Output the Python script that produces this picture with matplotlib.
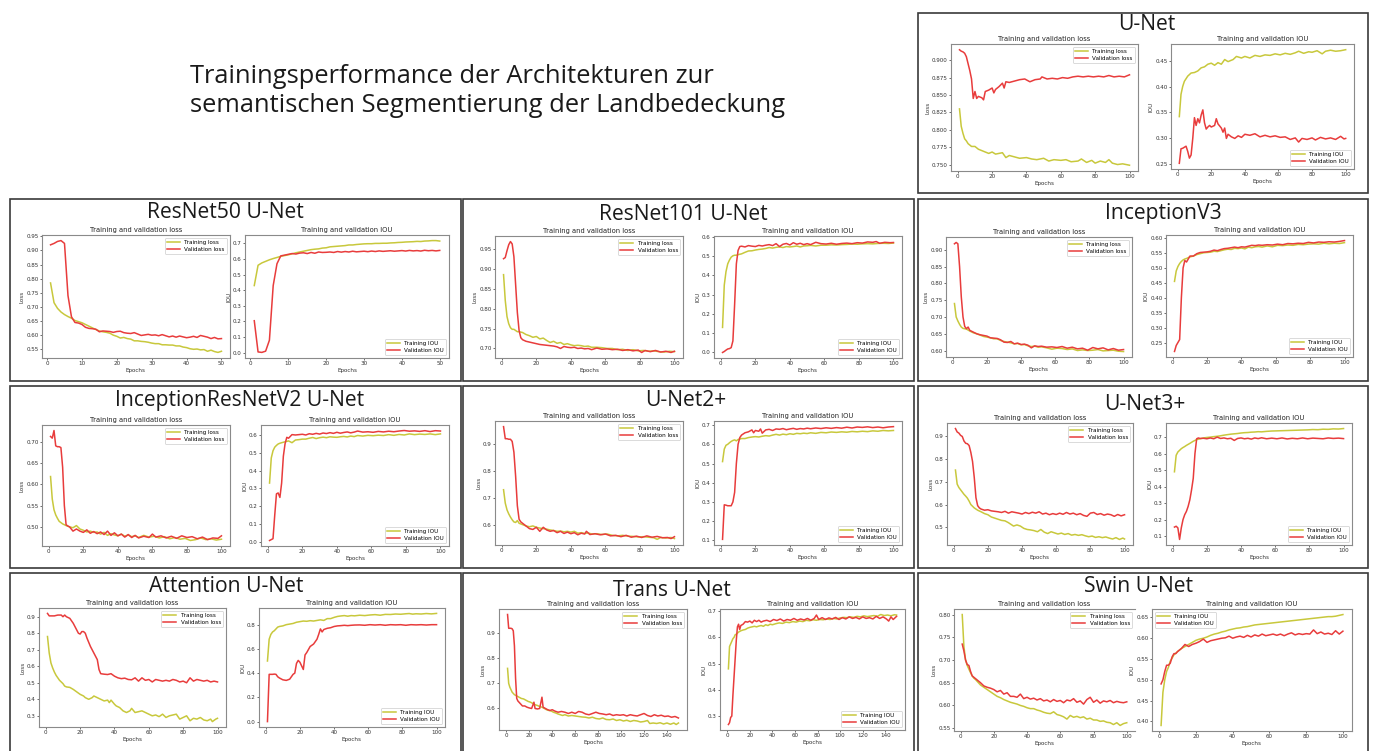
import matplotlib
matplotlib.use("Agg")
import matplotlib.pyplot as plt
from matplotlib.patches import Rectangle

W, H = 1375, 751

MAIN_TITLE = "Trainingsperformance der Architekturen zur\nsemantischen Segmentierung der Landbedeckung"

# ---------------------------------------------------------------- U-Net
UNET_TL_X = [1, 2, 3, 4, 5, 6, 8, 10, 12, 14, 16, 18, 20, 22, 24, 26, 28, 30, 33, 36, 40, 43, 46, 50,
             53, 56, 60, 63, 66, 70, 72, 75, 78, 80, 83, 86, 88, 90, 93, 96, 98, 100]
UNET_TL_Y = [0.830, 0.805, 0.795, 0.787, 0.784, 0.780, 0.776, 0.776, 0.772, 0.770, 0.768, 0.766, 0.768,
             0.765, 0.766, 0.767, 0.760, 0.763, 0.761, 0.759, 0.760, 0.758, 0.757, 0.759, 0.755, 0.757,
             0.756, 0.757, 0.754, 0.755, 0.758, 0.753, 0.756, 0.752, 0.755, 0.753, 0.757, 0.752, 0.750,
             0.751, 0.750, 0.749]
UNET_VL_X = [1, 2, 3, 4, 5, 6, 7, 8, 9, 10, 11, 12, 14, 15, 16, 18, 20, 21, 22, 24, 26, 27, 28, 30, 33,
             36, 39, 42, 45, 48, 49, 52, 55, 58, 61, 64, 67, 70, 73, 76, 79, 82, 85, 88, 91, 94, 97, 100]
UNET_VL_Y = [0.915, 0.913, 0.912, 0.910, 0.905, 0.895, 0.885, 0.873, 0.845, 0.855, 0.845, 0.848, 0.846,
             0.843, 0.855, 0.857, 0.860, 0.853, 0.858, 0.862, 0.867, 0.860, 0.869, 0.868, 0.870, 0.872,
             0.873, 0.869, 0.872, 0.873, 0.876, 0.873, 0.874, 0.873, 0.875, 0.874, 0.876, 0.877, 0.876,
             0.877, 0.876, 0.877, 0.876, 0.878, 0.876, 0.877, 0.876, 0.879]
UNET_TI_X = [1, 2, 3, 4, 5, 6, 8, 10, 12, 14, 16, 18, 20, 22, 24, 26, 28, 30, 33, 35, 38, 40, 43, 46, 49,
             52, 55, 58, 61, 64, 67, 70, 72, 75, 78, 80, 83, 86, 88, 91, 94, 97, 100]
UNET_TI_Y = [0.342, 0.385, 0.400, 0.410, 0.415, 0.420, 0.426, 0.427, 0.430, 0.436, 0.438, 0.443, 0.445,
             0.441, 0.446, 0.443, 0.452, 0.448, 0.452, 0.458, 0.455, 0.458, 0.455, 0.460, 0.458, 0.461,
             0.460, 0.463, 0.461, 0.464, 0.462, 0.465, 0.468, 0.464, 0.467, 0.466, 0.469, 0.463, 0.468,
             0.470, 0.468, 0.469, 0.471]
UNET_VI_X = [1, 2, 3, 4, 5, 6, 7, 8, 9, 10, 11, 12, 13, 14, 15, 16, 17, 18, 19, 20, 22, 23, 24, 26, 27,
             28, 29, 30, 32, 34, 36, 38, 40, 43, 46, 49, 52, 55, 58, 61, 64, 67, 70, 72, 74, 77, 80, 82,
             85, 88, 91, 94, 97, 99, 100]
UNET_VI_Y = [0.252, 0.280, 0.281, 0.283, 0.285, 0.275, 0.262, 0.268, 0.300, 0.340, 0.325, 0.338, 0.330,
             0.345, 0.355, 0.330, 0.318, 0.322, 0.325, 0.322, 0.325, 0.338, 0.328, 0.320, 0.312, 0.320,
             0.300, 0.308, 0.303, 0.300, 0.305, 0.302, 0.308, 0.306, 0.309, 0.303, 0.306, 0.303, 0.305,
             0.302, 0.303, 0.298, 0.301, 0.293, 0.300, 0.298, 0.301, 0.297, 0.302, 0.299, 0.301, 0.298,
             0.304, 0.299, 0.300]
UNET_LOSS_TICKS = [0.750, 0.775, 0.800, 0.825, 0.850, 0.875, 0.900]
UNET_IOU_TICKS = [0.25, 0.30, 0.35, 0.40, 0.45]

# ---------------------------------------------------------------- ResNet50 U-Net (50 epochs)
R50_X = list(range(1, 51))
R50_TL_Y = [0.785, 0.715, 0.695, 0.682, 0.673, 0.666, 0.660, 0.652, 0.648, 0.644, 0.638, 0.632, 0.626,
            0.620, 0.615, 0.612, 0.610, 0.607, 0.600, 0.596, 0.590, 0.592, 0.588, 0.586, 0.580, 0.580,
            0.578, 0.577, 0.575, 0.572, 0.570, 0.570, 0.566, 0.566, 0.565, 0.565, 0.562, 0.562, 0.558,
            0.556, 0.552, 0.550, 0.551, 0.548, 0.549, 0.543, 0.547, 0.542, 0.539, 0.543]
R50_VL_Y = [0.920, 0.925, 0.932, 0.935, 0.925, 0.740, 0.665, 0.645, 0.643, 0.638, 0.628, 0.624, 0.623,
            0.621, 0.612, 0.615, 0.614, 0.613, 0.610, 0.613, 0.614, 0.609, 0.607, 0.606, 0.609, 0.604,
            0.599, 0.601, 0.603, 0.600, 0.601, 0.598, 0.602, 0.598, 0.594, 0.597, 0.593, 0.597, 0.594,
            0.591, 0.593, 0.596, 0.592, 0.599, 0.596, 0.593, 0.588, 0.592, 0.587, 0.588]
R50_TI_Y = [0.430, 0.560, 0.575, 0.585, 0.595, 0.603, 0.610, 0.617, 0.622, 0.627, 0.633, 0.640, 0.645,
            0.650, 0.655, 0.660, 0.663, 0.665, 0.670, 0.672, 0.678, 0.680, 0.682, 0.684, 0.686, 0.690,
            0.690, 0.693, 0.695, 0.697, 0.698, 0.698, 0.700, 0.700, 0.701, 0.701, 0.703, 0.704, 0.706,
            0.707, 0.709, 0.710, 0.711, 0.713, 0.712, 0.715, 0.716, 0.718, 0.718, 0.715]
R50_VI_Y = [0.205, 0.005, 0.002, 0.010, 0.080, 0.430, 0.570, 0.620, 0.625, 0.630, 0.635, 0.632, 0.638,
            0.640, 0.635, 0.642, 0.637, 0.645, 0.642, 0.643, 0.645, 0.642, 0.648, 0.644, 0.648, 0.645,
            0.650, 0.646, 0.648, 0.650, 0.647, 0.651, 0.648, 0.652, 0.649, 0.651, 0.653, 0.650, 0.652,
            0.654, 0.651, 0.655, 0.652, 0.654, 0.651, 0.656, 0.653, 0.655, 0.652, 0.655]
R50_LOSS_TICKS = [0.55, 0.60, 0.65, 0.70, 0.75, 0.80, 0.85, 0.90, 0.95]
R50_IOU_TICKS = [0.0, 0.1, 0.2, 0.3, 0.4, 0.5, 0.6, 0.7]

# ---------------------------------------------------------------- ResNet101 U-Net
R101_TL_X = [1, 2, 3, 4, 5, 6, 7, 8, 9, 10, 12, 14, 16, 18, 20, 22, 24, 26, 28, 30, 32, 34, 36, 38, 40,
             42, 44, 46, 48, 50, 52, 55, 58, 61, 64, 67, 70, 73, 76, 79, 82, 85, 88, 91, 94, 97, 100]
R101_TL_Y = [0.885, 0.820, 0.780, 0.762, 0.752, 0.748, 0.748, 0.745, 0.742, 0.742, 0.740, 0.735, 0.732,
             0.728, 0.730, 0.724, 0.726, 0.720, 0.715, 0.718, 0.713, 0.715, 0.710, 0.712, 0.709, 0.707,
             0.708, 0.707, 0.705, 0.706, 0.703, 0.703, 0.702, 0.700, 0.700, 0.697, 0.698, 0.695, 0.697,
             0.694, 0.695, 0.693, 0.694, 0.692, 0.691, 0.693, 0.692]
R101_VL_X = [1, 2, 3, 4, 5, 6, 7, 8, 9, 10, 11, 12, 14, 16, 18, 20, 22, 24, 26, 28, 30, 32, 34, 36, 38,
             40, 42, 44, 46, 48, 50, 52, 55, 58, 61, 64, 67, 70, 73, 76, 79, 81, 83, 86, 89, 92, 95, 98, 100]
R101_VL_Y = [0.925, 0.928, 0.945, 0.960, 0.968, 0.962, 0.930, 0.860, 0.790, 0.745, 0.727, 0.722, 0.718,
             0.716, 0.714, 0.712, 0.710, 0.709, 0.708, 0.707, 0.706, 0.704, 0.700, 0.705, 0.703, 0.702,
             0.703, 0.700, 0.701, 0.699, 0.700, 0.697, 0.701, 0.698, 0.699, 0.697, 0.698, 0.695, 0.697,
             0.694, 0.696, 0.690, 0.695, 0.692, 0.695, 0.691, 0.693, 0.690, 0.693]
R101_TI_X = R101_TL_X
R101_TI_Y = [0.130, 0.350, 0.420, 0.460, 0.480, 0.495, 0.502, 0.505, 0.505, 0.508, 0.512, 0.520, 0.527,
             0.528, 0.532, 0.535, 0.537, 0.540, 0.545, 0.542, 0.546, 0.548, 0.545, 0.550, 0.548, 0.550,
             0.553, 0.548, 0.553, 0.554, 0.556, 0.553, 0.557, 0.557, 0.559, 0.558, 0.560, 0.561, 0.563,
             0.562, 0.564, 0.565, 0.564, 0.566, 0.567, 0.566, 0.568]
R101_VI_X = [1, 2, 3, 4, 5, 6, 7, 8, 9, 10, 11, 12, 14, 16, 18, 20, 22, 24, 26, 28, 30, 32, 34, 36, 38,
             40, 42, 44, 46, 48, 50, 52, 55, 58, 61, 64, 67, 70, 73, 76, 79, 82, 85, 88, 90, 92, 95, 98, 100]
R101_VI_Y = [0.000, 0.005, 0.012, 0.018, 0.020, 0.025, 0.060, 0.250, 0.460, 0.530, 0.550, 0.552, 0.548,
             0.555, 0.552, 0.550, 0.556, 0.553, 0.557, 0.560, 0.555, 0.565, 0.550, 0.562, 0.566, 0.558,
             0.570, 0.562, 0.567, 0.560, 0.565, 0.560, 0.572, 0.565, 0.563, 0.567, 0.562, 0.566, 0.568,
             0.565, 0.570, 0.568, 0.574, 0.572, 0.576, 0.567, 0.572, 0.570, 0.571]
R101_LOSS_TICKS = [0.70, 0.75, 0.80, 0.85, 0.90, 0.95]
R101_IOU_TICKS = [0.0, 0.1, 0.2, 0.3, 0.4, 0.5, 0.6]

# ---------------------------------------------------------------- InceptionV3
INC_TL_X = [1, 2, 3, 4, 5, 6, 7, 8, 10, 12, 14, 16, 18, 20, 22, 24, 26, 28, 30, 32, 34, 36, 38, 40, 42,
            44, 46, 48, 50, 52, 55, 58, 61, 64, 67, 70, 73, 76, 79, 82, 85, 88, 91, 94, 97, 100]
INC_TL_Y = [0.740, 0.700, 0.688, 0.678, 0.670, 0.666, 0.665, 0.664, 0.658, 0.653, 0.650, 0.646, 0.642,
            0.640, 0.638, 0.635, 0.635, 0.630, 0.627, 0.625, 0.623, 0.620, 0.621, 0.617, 0.618, 0.614,
            0.612, 0.613, 0.610, 0.611, 0.608, 0.604, 0.607, 0.606, 0.603, 0.605, 0.600, 0.602, 0.600,
            0.601, 0.603, 0.599, 0.600, 0.601, 0.598, 0.597]
INC_VL_X = [1, 2, 3, 4, 5, 6, 7, 8, 9, 10, 12, 14, 16, 18, 20, 22, 24, 26, 28, 30, 32, 34, 36, 38, 40,
            42, 44, 46, 48, 50, 52, 55, 58, 61, 64, 67, 70, 73, 76, 79, 82, 85, 88, 91, 94, 97, 100]
INC_VL_Y = [0.918, 0.922, 0.918, 0.850, 0.760, 0.700, 0.672, 0.665, 0.670, 0.660, 0.655, 0.650, 0.647,
            0.645, 0.643, 0.638, 0.637, 0.636, 0.632, 0.625, 0.624, 0.627, 0.620, 0.622, 0.618, 0.619,
            0.616, 0.608, 0.614, 0.612, 0.613, 0.610, 0.611, 0.609, 0.612, 0.607, 0.610, 0.605, 0.607,
            0.601, 0.609, 0.605, 0.608, 0.602, 0.606, 0.601, 0.603]
INC_TI_X = INC_TL_X
INC_TI_Y = [0.455, 0.490, 0.505, 0.515, 0.522, 0.527, 0.530, 0.532, 0.537, 0.540, 0.545, 0.548, 0.551,
            0.552, 0.553, 0.556, 0.555, 0.558, 0.561, 0.563, 0.562, 0.566, 0.565, 0.567, 0.564, 0.570,
            0.568, 0.571, 0.572, 0.570, 0.574, 0.571, 0.576, 0.575, 0.577, 0.576, 0.579, 0.578, 0.580,
            0.581, 0.580, 0.583, 0.581, 0.583, 0.582, 0.585]
INC_VI_X = INC_VL_X
INC_VI_Y = [0.220, 0.240, 0.250, 0.260, 0.400, 0.500, 0.525, 0.520, 0.530, 0.540, 0.540, 0.548, 0.552,
            0.553, 0.554, 0.556, 0.560, 0.558, 0.562, 0.565, 0.566, 0.568, 0.570, 0.568, 0.571, 0.570,
            0.573, 0.576, 0.575, 0.577, 0.576, 0.578, 0.577, 0.580, 0.578, 0.582, 0.581, 0.583, 0.582,
            0.586, 0.584, 0.587, 0.586, 0.588, 0.587, 0.589, 0.592]
INC_LOSS_TICKS = [0.60, 0.65, 0.70, 0.75, 0.80, 0.85, 0.90]
INC_IOU_TICKS = [0.25, 0.30, 0.35, 0.40, 0.45, 0.50, 0.55, 0.60]

# ---------------------------------------------------------------- InceptionResNetV2 U-Net
IRV2_TL_X = [1, 2, 3, 4, 5, 6, 7, 8, 10, 12, 14, 16, 18, 20, 22, 24, 26, 28, 30, 32, 34, 36, 38, 40, 42,
             44, 46, 48, 50, 52, 55, 58, 61, 64, 67, 70, 73, 76, 79, 82, 85, 88, 91, 94, 97, 100]
IRV2_TL_Y = [0.618, 0.565, 0.540, 0.528, 0.520, 0.513, 0.510, 0.507, 0.503, 0.500, 0.498, 0.503, 0.495,
             0.492, 0.488, 0.490, 0.487, 0.488, 0.483, 0.487, 0.480, 0.484, 0.481, 0.479, 0.483, 0.478,
             0.481, 0.477, 0.479, 0.475, 0.480, 0.476, 0.478, 0.474, 0.477, 0.472, 0.475, 0.471, 0.473,
             0.468, 0.470, 0.474, 0.470, 0.472, 0.469, 0.471]
IRV2_VL_X = [1, 2, 3, 4, 5, 6, 7, 8, 9, 10, 11, 12, 14, 16, 18, 20, 22, 24, 26, 28, 30, 32, 34, 36, 38,
             40, 42, 44, 46, 48, 50, 52, 55, 58, 60, 62, 65, 68, 71, 74, 77, 80, 83, 86, 89, 92, 95, 98, 100]
IRV2_VL_Y = [0.712, 0.708, 0.726, 0.690, 0.688, 0.688, 0.686, 0.640, 0.550, 0.505, 0.502, 0.500, 0.490,
             0.495, 0.490, 0.487, 0.493, 0.485, 0.489, 0.484, 0.488, 0.482, 0.490, 0.480, 0.486, 0.479,
             0.483, 0.476, 0.482, 0.475, 0.480, 0.474, 0.478, 0.475, 0.483, 0.476, 0.479, 0.474, 0.478,
             0.473, 0.479, 0.475, 0.477, 0.472, 0.476, 0.470, 0.474, 0.473, 0.479]
IRV2_TI_X = [1, 2, 3, 4, 5, 6, 7, 8, 10, 12, 14, 16, 18, 20, 22, 24, 26, 28, 30, 32, 34, 36, 38, 40, 42,
             44, 46, 48, 50, 52, 55, 58, 61, 64, 67, 70, 73, 76, 79, 82, 85, 88, 91, 94, 97, 100]
IRV2_TI_Y = [0.330, 0.470, 0.510, 0.530, 0.540, 0.548, 0.552, 0.555, 0.560, 0.565, 0.555, 0.570, 0.572,
             0.575, 0.575, 0.580, 0.584, 0.578, 0.583, 0.586, 0.583, 0.588, 0.586, 0.585, 0.588, 0.590,
             0.587, 0.592, 0.589, 0.595, 0.592, 0.596, 0.594, 0.597, 0.595, 0.600, 0.596, 0.601, 0.598,
             0.604, 0.600, 0.603, 0.601, 0.604, 0.600, 0.604]
IRV2_VI_X = [1, 2, 3, 4, 5, 6, 7, 8, 9, 10, 11, 12, 13, 14, 16, 18, 20, 22, 24, 26, 28, 30, 32, 34, 36,
             38, 40, 42, 44, 46, 48, 50, 52, 55, 58, 61, 64, 67, 70, 73, 76, 79, 82, 85, 88, 91, 94, 97, 100]
IRV2_VI_Y = [0.010, 0.015, 0.020, 0.150, 0.270, 0.275, 0.250, 0.330, 0.480, 0.550, 0.585, 0.580, 0.590,
             0.600, 0.598, 0.600, 0.602, 0.598, 0.605, 0.602, 0.607, 0.603, 0.609, 0.606, 0.611, 0.607,
             0.613, 0.608, 0.612, 0.615, 0.610, 0.614, 0.620, 0.614, 0.616, 0.613, 0.618, 0.615, 0.619,
             0.616, 0.620, 0.623, 0.619, 0.621, 0.618, 0.622, 0.617, 0.622, 0.620]
IRV2_LOSS_TICKS = [0.50, 0.55, 0.60, 0.65, 0.70]
IRV2_IOU_TICKS = [0.0, 0.1, 0.2, 0.3, 0.4, 0.5, 0.6]

# ---------------------------------------------------------------- U-Net2+
U2P_TL_X = [1, 2, 3, 4, 5, 6, 7, 8, 9, 10, 12, 14, 16, 18, 20, 22, 24, 26, 28, 30, 32, 34, 36, 38, 40,
            42, 44, 46, 48, 50, 52, 55, 58, 61, 64, 67, 70, 73, 76, 79, 82, 85, 88, 90, 92, 95, 98, 100]
U2P_TL_Y = [0.730, 0.680, 0.655, 0.640, 0.628, 0.618, 0.610, 0.608, 0.615, 0.605, 0.600, 0.595, 0.592,
            0.595, 0.590, 0.587, 0.585, 0.583, 0.580, 0.578, 0.575, 0.576, 0.573, 0.575, 0.572, 0.575,
            0.568, 0.570, 0.567, 0.569, 0.565, 0.566, 0.563, 0.565, 0.560, 0.558, 0.560, 0.557, 0.556,
            0.554, 0.555, 0.553, 0.551, 0.545, 0.552, 0.550, 0.552, 0.548]
U2P_VL_X = [1, 2, 3, 4, 5, 6, 7, 8, 9, 10, 11, 12, 14, 16, 18, 20, 22, 24, 26, 28, 30, 32, 34, 36, 38,
            40, 42, 44, 46, 48, 49, 51, 54, 57, 60, 63, 66, 69, 72, 75, 78, 81, 84, 87, 90, 93, 96, 98, 100]
U2P_VL_Y = [0.965, 0.920, 0.920, 0.918, 0.918, 0.910, 0.870, 0.780, 0.670, 0.620, 0.610, 0.605, 0.595,
            0.585, 0.582, 0.590, 0.575, 0.590, 0.580, 0.575, 0.578, 0.570, 0.575, 0.567, 0.572, 0.566,
            0.570, 0.562, 0.568, 0.565, 0.575, 0.563, 0.566, 0.562, 0.565, 0.558, 0.560, 0.555, 0.560,
            0.553, 0.557, 0.552, 0.558, 0.553, 0.556, 0.551, 0.552, 0.548, 0.555]
U2P_TI_X = [1, 2, 3, 4, 5, 6, 7, 8, 9, 10, 12, 14, 16, 18, 20, 22, 24, 26, 28, 30, 32, 34, 36, 38, 40,
            42, 44, 46, 48, 50, 52, 55, 58, 61, 64, 67, 70, 73, 76, 79, 82, 85, 88, 91, 94, 97, 100]
U2P_TI_Y = [0.510, 0.575, 0.595, 0.600, 0.608, 0.615, 0.620, 0.623, 0.618, 0.625, 0.630, 0.630, 0.635,
            0.638, 0.640, 0.638, 0.642, 0.645, 0.643, 0.648, 0.652, 0.648, 0.653, 0.650, 0.655, 0.652,
            0.657, 0.655, 0.658, 0.656, 0.660, 0.657, 0.662, 0.660, 0.664, 0.662, 0.665, 0.663, 0.667,
            0.665, 0.668, 0.666, 0.670, 0.668, 0.672, 0.670, 0.672]
U2P_VI_X = [1, 2, 3, 4, 5, 6, 7, 8, 9, 10, 11, 12, 14, 16, 18, 19, 20, 22, 23, 24, 26, 28, 30, 32, 34,
            36, 38, 40, 42, 44, 46, 48, 50, 52, 55, 58, 61, 64, 67, 70, 73, 76, 79, 82, 85, 88, 91, 94,
            97, 100]
U2P_VI_Y = [0.105, 0.285, 0.283, 0.280, 0.280, 0.280, 0.300, 0.350, 0.500, 0.600, 0.635, 0.648, 0.660,
            0.665, 0.675, 0.660, 0.672, 0.668, 0.680, 0.658, 0.675, 0.678, 0.672, 0.680, 0.678, 0.682,
            0.676, 0.680, 0.683, 0.678, 0.682, 0.680, 0.684, 0.681, 0.685, 0.682, 0.686, 0.683, 0.687,
            0.684, 0.689, 0.685, 0.690, 0.688, 0.691, 0.687, 0.690, 0.686, 0.690, 0.692]
U2P_LOSS_TICKS = [0.6, 0.7, 0.8, 0.9]
U2P_IOU_TICKS = [0.1, 0.2, 0.3, 0.4, 0.5, 0.6, 0.7]

# ---------------------------------------------------------------- U-Net3+
U3P_TL_X = [1, 2, 3, 4, 5, 6, 7, 8, 9, 10, 12, 14, 16, 18, 20, 22, 24, 26, 28, 30, 32, 34, 35, 37, 39,
            41, 43, 45, 47, 49, 51, 53, 55, 57, 59, 61, 63, 65, 67, 69, 71, 73, 75, 77, 79, 81, 83, 85,
            87, 89, 91, 93, 95, 97, 99, 100]
U3P_TL_Y = [0.752, 0.690, 0.675, 0.665, 0.655, 0.645, 0.637, 0.628, 0.615, 0.600, 0.585, 0.575, 0.568,
            0.560, 0.555, 0.545, 0.540, 0.535, 0.530, 0.528, 0.520, 0.510, 0.505, 0.510, 0.505, 0.495,
            0.490, 0.488, 0.485, 0.480, 0.490, 0.478, 0.472, 0.480, 0.475, 0.470, 0.474, 0.468, 0.472,
            0.465, 0.468, 0.464, 0.467, 0.462, 0.458, 0.461, 0.455, 0.458, 0.454, 0.457, 0.452, 0.448,
            0.454, 0.446, 0.452, 0.448]
U3P_VL_X = [1, 2, 3, 4, 5, 6, 7, 8, 9, 10, 11, 12, 13, 14, 15, 16, 18, 20, 22, 24, 26, 28, 30, 32, 34,
            36, 38, 40, 42, 44, 46, 48, 50, 52, 54, 56, 58, 60, 62, 64, 66, 68, 70, 72, 74, 76, 78, 80,
            82, 84, 86, 88, 90, 92, 94, 96, 98, 100]
U3P_VL_Y = [0.935, 0.920, 0.915, 0.905, 0.900, 0.880, 0.870, 0.868, 0.860, 0.830, 0.790, 0.720, 0.630,
            0.595, 0.585, 0.580, 0.575, 0.577, 0.572, 0.570, 0.568, 0.565, 0.570, 0.562, 0.568, 0.565,
            0.562, 0.558, 0.565, 0.560, 0.566, 0.562, 0.568, 0.558, 0.562, 0.555, 0.560, 0.556, 0.562,
            0.557, 0.565, 0.558, 0.562, 0.555, 0.560, 0.552, 0.548, 0.562, 0.565, 0.556, 0.560, 0.553,
            0.558, 0.555, 0.548, 0.556, 0.550, 0.555]
U3P_TI_X = [1, 2, 3, 4, 5, 6, 7, 8, 10, 12, 14, 16, 18, 20, 22, 24, 26, 28, 30, 32, 34, 36, 38, 40, 42,
            44, 46, 48, 50, 52, 55, 58, 61, 64, 67, 70, 73, 76, 79, 82, 85, 88, 91, 94, 97, 100]
U3P_TI_Y = [0.490, 0.590, 0.610, 0.620, 0.630, 0.637, 0.643, 0.650, 0.662, 0.675, 0.685, 0.690, 0.695,
            0.698, 0.700, 0.703, 0.705, 0.708, 0.712, 0.715, 0.718, 0.720, 0.722, 0.725, 0.727, 0.728,
            0.730, 0.731, 0.733, 0.732, 0.735, 0.737, 0.738, 0.739, 0.740, 0.741, 0.742, 0.743, 0.744,
            0.746, 0.745, 0.748, 0.747, 0.750, 0.749, 0.752]
U3P_VI_X = [1, 2, 3, 4, 5, 6, 7, 8, 9, 10, 11, 12, 13, 14, 15, 16, 18, 20, 22, 24, 26, 28, 30, 32, 34,
            36, 38, 40, 42, 44, 46, 48, 50, 52, 55, 58, 61, 64, 67, 70, 73, 76, 79, 82, 85, 88, 91, 94,
            97, 100]
U3P_VI_Y = [0.155, 0.160, 0.150, 0.080, 0.150, 0.200, 0.230, 0.250, 0.280, 0.320, 0.380, 0.450, 0.600,
            0.690, 0.695, 0.692, 0.693, 0.690, 0.695, 0.690, 0.700, 0.692, 0.695, 0.690, 0.693, 0.680,
            0.692, 0.695, 0.690, 0.693, 0.688, 0.695, 0.691, 0.696, 0.690, 0.694, 0.690, 0.695, 0.689,
            0.693, 0.690, 0.695, 0.690, 0.694, 0.692, 0.690, 0.695, 0.692, 0.694, 0.691]
U3P_LOSS_TICKS = [0.5, 0.6, 0.7, 0.8, 0.9]
U3P_IOU_TICKS = [0.1, 0.2, 0.3, 0.4, 0.5, 0.6, 0.7]

# ---------------------------------------------------------------- Attention U-Net
ATT_TL_X = [1, 2, 3, 4, 5, 6, 7, 8, 9, 10, 11, 12, 14, 16, 18, 20, 22, 23, 25, 27, 28, 30, 32, 34, 36,
            37, 38, 40, 41, 43, 45, 47, 49, 50, 52, 54, 56, 58, 60, 62, 64, 66, 68, 70, 72, 74, 76, 78,
            80, 82, 84, 86, 88, 90, 92, 94, 96, 97, 99, 100]
ATT_TL_Y = [0.780, 0.680, 0.620, 0.590, 0.565, 0.545, 0.530, 0.515, 0.505, 0.495, 0.480, 0.475, 0.472,
            0.460, 0.445, 0.430, 0.420, 0.410, 0.400, 0.410, 0.420, 0.410, 0.400, 0.390, 0.395, 0.380,
            0.395, 0.370, 0.360, 0.350, 0.330, 0.320, 0.330, 0.345, 0.320, 0.325, 0.330, 0.320, 0.310,
            0.300, 0.305, 0.295, 0.310, 0.290, 0.300, 0.305, 0.310, 0.280, 0.290, 0.300, 0.270, 0.285,
            0.280, 0.290, 0.275, 0.270, 0.280, 0.265, 0.280, 0.285]
ATT_VL_X = [1, 2, 3, 5, 7, 9, 10, 11, 12, 14, 16, 17, 18, 19, 20, 21, 22, 23, 24, 26, 28, 30, 31, 32,
            34, 36, 38, 40, 42, 44, 46, 48, 50, 52, 54, 56, 58, 60, 62, 64, 66, 68, 70, 72, 74, 76, 78,
            80, 82, 84, 86, 88, 90, 92, 94, 96, 98, 100]
ATT_VL_Y = [0.920, 0.905, 0.905, 0.905, 0.910, 0.910, 0.900, 0.910, 0.900, 0.890, 0.860, 0.840, 0.820,
            0.800, 0.795, 0.810, 0.810, 0.800, 0.770, 0.720, 0.680, 0.640, 0.580, 0.555, 0.552, 0.550,
            0.555, 0.540, 0.530, 0.525, 0.528, 0.520, 0.518, 0.530, 0.510, 0.530, 0.515, 0.520, 0.505,
            0.520, 0.515, 0.510, 0.515, 0.510, 0.520, 0.515, 0.505, 0.510, 0.500, 0.530, 0.510, 0.520,
            0.515, 0.510, 0.515, 0.505, 0.510, 0.505]
ATT_TI_X = [1, 2, 3, 4, 5, 6, 7, 8, 10, 12, 14, 16, 18, 20, 22, 24, 26, 28, 30, 32, 34, 36, 38, 40, 42,
            44, 46, 48, 50, 52, 55, 58, 61, 64, 67, 70, 73, 76, 79, 82, 84, 86, 88, 91, 94, 97, 100]
ATT_TI_Y = [0.500, 0.680, 0.720, 0.740, 0.750, 0.765, 0.780, 0.785, 0.790, 0.800, 0.805, 0.810, 0.820,
            0.825, 0.830, 0.828, 0.833, 0.830, 0.835, 0.840, 0.835, 0.850, 0.850, 0.860, 0.868, 0.872,
            0.875, 0.870, 0.875, 0.873, 0.878, 0.875, 0.880, 0.883, 0.878, 0.885, 0.884, 0.888, 0.886,
            0.890, 0.892, 0.887, 0.890, 0.888, 0.892, 0.889, 0.893]
ATT_VI_X = [1, 2, 3, 4, 5, 6, 7, 8, 10, 12, 14, 16, 17, 18, 19, 20, 21, 22, 23, 24, 26, 28, 29, 30, 31,
            32, 33, 34, 36, 38, 40, 42, 44, 46, 48, 50, 52, 55, 58, 61, 64, 67, 70, 73, 76, 79, 82, 85,
            88, 91, 94, 97, 100]
ATT_VI_Y = [0.000, 0.390, 0.390, 0.390, 0.392, 0.390, 0.370, 0.360, 0.345, 0.340, 0.350, 0.390, 0.400,
            0.480, 0.505, 0.490, 0.460, 0.430, 0.550, 0.570, 0.620, 0.640, 0.660, 0.680, 0.720, 0.765,
            0.740, 0.760, 0.770, 0.775, 0.785, 0.790, 0.792, 0.795, 0.792, 0.795, 0.797, 0.798, 0.795,
            0.800, 0.797, 0.800, 0.795, 0.800, 0.798, 0.800, 0.795, 0.800, 0.798, 0.800, 0.797, 0.800,
            0.800]
ATT_LOSS_TICKS = [0.3, 0.4, 0.5, 0.6, 0.7, 0.8, 0.9]
ATT_IOU_TICKS = [0.0, 0.2, 0.4, 0.6, 0.8]

# ---------------------------------------------------------------- Trans U-Net (150 epochs)
TRANS_TL_X = [1, 2, 3, 4, 5, 7, 9, 11, 13, 15, 17, 19, 21, 23, 25, 27, 29, 31, 33, 35, 37, 39, 41, 43,
              45, 47, 49, 51, 54, 57, 60, 63, 66, 69, 72, 75, 78, 81, 84, 87, 90, 93, 96, 99, 102, 105,
              108, 111, 114, 117, 120, 123, 125, 128, 131, 134, 137, 140, 143, 146, 148, 150]
TRANS_TL_Y = [0.760, 0.700, 0.685, 0.675, 0.665, 0.655, 0.650, 0.645, 0.640, 0.638, 0.633, 0.628, 0.625,
              0.620, 0.615, 0.612, 0.608, 0.605, 0.600, 0.595, 0.592, 0.590, 0.585, 0.582, 0.578, 0.575,
              0.572, 0.575, 0.570, 0.572, 0.570, 0.568, 0.566, 0.565, 0.562, 0.565, 0.560, 0.558, 0.562,
              0.556, 0.555, 0.558, 0.552, 0.555, 0.550, 0.553, 0.548, 0.552, 0.550, 0.546, 0.548, 0.552,
              0.540, 0.542, 0.540, 0.543, 0.538, 0.542, 0.537, 0.542, 0.536, 0.542]
TRANS_VL_X = [1, 2, 3, 4, 5, 6, 7, 8, 9, 10, 12, 14, 16, 18, 20, 22, 24, 25, 27, 29, 31, 32, 34, 36, 38,
              40, 42, 45, 48, 51, 54, 57, 60, 63, 66, 69, 72, 75, 78, 81, 84, 87, 90, 93, 96, 99, 102,
              105, 108, 111, 114, 117, 120, 123, 126, 129, 132, 135, 138, 141, 144, 147, 150]
TRANS_VL_Y = [0.975, 0.920, 0.920, 0.920, 0.918, 0.910, 0.850, 0.720, 0.640, 0.630, 0.620, 0.610, 0.610,
              0.605, 0.602, 0.600, 0.625, 0.600, 0.598, 0.600, 0.645, 0.605, 0.600, 0.595, 0.592, 0.595,
              0.590, 0.585, 0.588, 0.585, 0.580, 0.585, 0.580, 0.588, 0.585, 0.578, 0.575, 0.580, 0.585,
              0.580, 0.578, 0.575, 0.578, 0.572, 0.575, 0.573, 0.575, 0.570, 0.575, 0.572, 0.570, 0.575,
              0.580, 0.572, 0.568, 0.575, 0.570, 0.573, 0.568, 0.570, 0.565, 0.568, 0.562]
TRANS_TI_X = [1, 2, 3, 4, 5, 6, 7, 8, 10, 12, 14, 16, 18, 20, 22, 24, 26, 28, 30, 32, 34, 36, 38, 40,
              43, 46, 49, 52, 55, 58, 61, 64, 67, 70, 73, 76, 79, 82, 85, 88, 91, 94, 97, 100, 103, 106,
              109, 112, 115, 118, 121, 124, 127, 130, 133, 136, 139, 142, 145, 148, 150]
TRANS_TI_Y = [0.480, 0.565, 0.575, 0.585, 0.595, 0.600, 0.610, 0.612, 0.620, 0.625, 0.628, 0.630, 0.635,
              0.638, 0.640, 0.642, 0.640, 0.643, 0.645, 0.642, 0.648, 0.645, 0.650, 0.648, 0.652, 0.655,
              0.653, 0.658, 0.656, 0.660, 0.658, 0.662, 0.660, 0.665, 0.663, 0.667, 0.665, 0.668, 0.667,
              0.670, 0.668, 0.672, 0.670, 0.674, 0.676, 0.675, 0.678, 0.676, 0.680, 0.678, 0.682, 0.679,
              0.681, 0.683, 0.680, 0.687, 0.683, 0.685, 0.682, 0.686, 0.685]
TRANS_VI_X = [1, 2, 3, 4, 5, 6, 7, 8, 9, 10, 11, 12, 14, 16, 18, 20, 22, 24, 26, 28, 30, 32, 35, 38, 41,
              44, 47, 50, 53, 56, 59, 62, 65, 68, 71, 74, 77, 79, 81, 84, 87, 90, 93, 96, 99, 102, 105,
              108, 111, 114, 117, 120, 123, 126, 129, 132, 135, 138, 141, 143, 145, 147, 150]
TRANS_VI_Y = [0.268, 0.275, 0.295, 0.300, 0.380, 0.450, 0.520, 0.590, 0.640, 0.650, 0.630, 0.645, 0.650,
              0.660, 0.658, 0.662, 0.655, 0.665, 0.660, 0.665, 0.658, 0.662, 0.665, 0.660, 0.668, 0.664,
              0.670, 0.662, 0.668, 0.665, 0.672, 0.665, 0.670, 0.666, 0.672, 0.665, 0.672, 0.685, 0.668,
              0.675, 0.668, 0.674, 0.670, 0.676, 0.668, 0.675, 0.670, 0.678, 0.672, 0.676, 0.670, 0.678,
              0.672, 0.675, 0.670, 0.680, 0.672, 0.678, 0.670, 0.662, 0.678, 0.668, 0.680]
TRANS_LOSS_TICKS = [0.6, 0.7, 0.8, 0.9]
TRANS_IOU_TICKS = [0.3, 0.4, 0.5, 0.6, 0.7]

# ---------------------------------------------------------------- Swin U-Net
SWIN_TL_X = [1, 2, 3, 4, 5, 6, 7, 8, 9, 10, 12, 14, 16, 18, 20, 22, 24, 26, 28, 30, 32, 34, 36, 38, 40,
             42, 44, 46, 48, 50, 52, 54, 56, 58, 60, 62, 64, 66, 68, 70, 72, 74, 76, 78, 80, 82, 84, 86,
             88, 90, 92, 94, 96, 98, 100]
SWIN_TL_Y = [0.800, 0.730, 0.700, 0.688, 0.680, 0.672, 0.665, 0.660, 0.657, 0.653, 0.645, 0.640, 0.635,
             0.630, 0.625, 0.620, 0.617, 0.613, 0.610, 0.607, 0.605, 0.603, 0.600, 0.598, 0.595, 0.593,
             0.593, 0.590, 0.588, 0.585, 0.583, 0.582, 0.586, 0.580, 0.578, 0.575, 0.570, 0.578, 0.574,
             0.576, 0.573, 0.575, 0.570, 0.572, 0.568, 0.568, 0.565, 0.566, 0.563, 0.562, 0.558, 0.562,
             0.556, 0.560, 0.562]
SWIN_VL_X = [1, 2, 3, 4, 5, 6, 7, 8, 10, 12, 14, 16, 18, 20, 22, 24, 26, 28, 30, 32, 34, 36, 38, 40, 42,
             44, 46, 48, 50, 52, 54, 56, 58, 60, 62, 64, 66, 68, 70, 72, 74, 76, 78, 80, 82, 84, 86, 88,
             90, 92, 94, 96, 98, 100]
SWIN_VL_Y = [0.735, 0.720, 0.700, 0.690, 0.688, 0.675, 0.665, 0.662, 0.656, 0.650, 0.643, 0.640, 0.638,
             0.635, 0.630, 0.633, 0.625, 0.628, 0.620, 0.620, 0.618, 0.625, 0.615, 0.618, 0.614, 0.616,
             0.612, 0.615, 0.610, 0.612, 0.608, 0.613, 0.609, 0.611, 0.606, 0.612, 0.610, 0.615, 0.607,
             0.610, 0.603, 0.613, 0.618, 0.607, 0.612, 0.605, 0.610, 0.608, 0.611, 0.606, 0.609, 0.607,
             0.606, 0.608]
SWIN_TI_X = [1, 2, 3, 4, 5, 6, 7, 8, 10, 12, 14, 16, 18, 20, 22, 24, 26, 28, 30, 32, 34, 36, 38, 40, 42,
             44, 46, 48, 50, 52, 54, 56, 58, 60, 62, 64, 66, 68, 70, 72, 74, 76, 78, 80, 82, 84, 86, 88,
             90, 92, 94, 96, 98, 100]
SWIN_TI_Y = [0.390, 0.470, 0.500, 0.520, 0.530, 0.545, 0.552, 0.560, 0.568, 0.575, 0.580, 0.585, 0.590,
             0.595, 0.598, 0.600, 0.603, 0.607, 0.610, 0.612, 0.615, 0.617, 0.620, 0.622, 0.624, 0.625,
             0.627, 0.628, 0.630, 0.632, 0.633, 0.634, 0.635, 0.636, 0.637, 0.638, 0.639, 0.640, 0.641,
             0.642, 0.643, 0.644, 0.645, 0.646, 0.647, 0.648, 0.649, 0.650, 0.651, 0.652, 0.652, 0.653,
             0.655, 0.657]
SWIN_VI_X = [1, 2, 3, 4, 5, 6, 7, 8, 9, 10, 12, 14, 16, 18, 20, 22, 24, 26, 28, 30, 32, 34, 36, 38, 40,
             42, 44, 46, 48, 50, 52, 54, 56, 58, 60, 62, 64, 66, 68, 70, 72, 74, 76, 78, 80, 82, 84, 86,
             88, 90, 92, 94, 96, 98, 100]
SWIN_VI_Y = [0.490, 0.500, 0.520, 0.535, 0.535, 0.540, 0.555, 0.563, 0.563, 0.568, 0.575, 0.585, 0.580,
             0.585, 0.588, 0.592, 0.598, 0.590, 0.594, 0.596, 0.598, 0.600, 0.601, 0.605, 0.600, 0.603,
             0.605, 0.602, 0.607, 0.603, 0.608, 0.605, 0.610, 0.606, 0.608, 0.610, 0.607, 0.610, 0.606,
             0.610, 0.613, 0.608, 0.611, 0.609, 0.611, 0.610, 0.620, 0.611, 0.615, 0.610, 0.612, 0.609,
             0.618, 0.610, 0.617]
SWIN_LOSS_TICKS = [0.55, 0.60, 0.65, 0.70, 0.75, 0.80]
SWIN_IOU_TICKS = [0.40, 0.45, 0.50, 0.55, 0.60, 0.65]

EPOCH_TICKS_100 = [0, 20, 40, 60, 80, 100]
EPOCH_TICKS_50 = [0, 10, 20, 30, 40, 50]
EPOCH_TICKS_150 = [0, 20, 40, 60, 80, 100, 120, 140]

TRAIN_COLOR = "#c8c83c"
VAL_COLOR = "#e83c3c"
SMALL = 4.1


def frac(x0, y0, x1, y1):
    """Pixelrechteck (oben links = 0,0) in Figure-Koordinaten."""
    return [x0 / W, 1 - y1 / H, (x1 - x0) / W, (y1 - y0) / H]


def style_ax(ax, title, ylabel, yticks, xticks):
    ax.set_title(title, fontsize=4.9, pad=2, color="#222222")
    ax.set_xlabel("Epochs", fontsize=SMALL, labelpad=1, color="#333333")
    ax.set_ylabel(ylabel, fontsize=SMALL, labelpad=1, color="#333333")
    ax.set_yticks(yticks)
    ax.set_xticks(xticks)
    ax.tick_params(labelsize=SMALL, length=1.5, width=0.5, pad=1, colors="#333333")
    for sp in ax.spines.values():
        sp.set_color("#8a8a8a")
        sp.set_linewidth(0.8)


def draw_panel(fig, name, box, title_xy, loss_rect, iou_rect, loss, iou, yt_loss, yt_iou,
               xticks, iou_legend="lower right", clip_right=False):
    x0, y0, x1, y1 = box
    fig.patches.append(Rectangle((x0 / W, 1 - y1 / H), (x1 - x0) / W, (y1 - y0) / H,
                                 transform=fig.transFigure, fill=False,
                                 edgecolor="#3a3a3a", linewidth=1.2))
    fig.text(title_xy[0] / W, 1 - title_xy[1] / H, name, ha="center", va="center",
             fontsize=15.2, family="Open Sans", color="#1a1a1a")

    ax1 = fig.add_axes(frac(*loss_rect))
    ax1.plot(loss[0], loss[1], color=TRAIN_COLOR, lw=1.1, label="Training loss")
    ax1.plot(loss[2], loss[3], color=VAL_COLOR, lw=1.1, label="Validation loss")
    style_ax(ax1, "Training and validation loss", "Loss", yt_loss, xticks)
    ax1.legend(loc="upper right", fontsize=SMALL, handlelength=2.2, borderpad=0.4,
               labelspacing=0.3, framealpha=1, edgecolor="#cccccc").get_frame().set_linewidth(0.5)
    if clip_right:
        ax1.spines["right"].set_visible(False)

    ax2 = fig.add_axes(frac(*iou_rect))
    ax2.plot(iou[0], iou[1], color=TRAIN_COLOR, lw=1.1, label="Training IOU")
    ax2.plot(iou[2], iou[3], color=VAL_COLOR, lw=1.1, label="Validation IOU")
    style_ax(ax2, "Training and validation IOU", "IOU", yt_iou, xticks)
    ax2.legend(loc=iou_legend, fontsize=SMALL, handlelength=2.2, borderpad=0.4,
               labelspacing=0.3, framealpha=1, edgecolor="#cccccc").get_frame().set_linewidth(0.5)


fig = plt.figure(figsize=(W / 100, H / 100), dpi=100)
fig.patch.set_facecolor("white")

fig.text(190 / W, 1 - 91 / H, MAIN_TITLE, ha="left", va="center", fontsize=18.4,
         family="Open Sans", color="#1a1a1a", linespacing=1.2)

draw_panel(fig, "U-Net", (918, 13, 1368, 193), (1147, 25),
           (951, 44, 1138, 171), (1171, 44, 1354, 169),
           (UNET_TL_X, UNET_TL_Y, UNET_VL_X, UNET_VL_Y),
           (UNET_TI_X, UNET_TI_Y, UNET_VI_X, UNET_VI_Y),
           UNET_LOSS_TICKS, UNET_IOU_TICKS, EPOCH_TICKS_100)

draw_panel(fig, "ResNet50 U-Net", (10, 199, 461, 381), (225, 212),
           (42, 235, 230, 358), (245, 235, 449, 358),
           (R50_X, R50_TL_Y, R50_X, R50_VL_Y),
           (R50_X, R50_TI_Y, R50_X, R50_VI_Y),
           R50_LOSS_TICKS, R50_IOU_TICKS, EPOCH_TICKS_50)

draw_panel(fig, "ResNet101 U-Net", (463, 199, 914, 381), (683, 214),
           (495, 236, 683, 358), (714, 236, 902, 358),
           (R101_TL_X, R101_TL_Y, R101_VL_X, R101_VL_Y),
           (R101_TI_X, R101_TI_Y, R101_VI_X, R101_VI_Y),
           R101_LOSS_TICKS, R101_IOU_TICKS, EPOCH_TICKS_100)

draw_panel(fig, "InceptionV3", (918, 199, 1368, 381), (1163, 213),
           (946, 237, 1132, 357), (1166, 235, 1353, 357),
           (INC_TL_X, INC_TL_Y, INC_VL_X, INC_VL_Y),
           (INC_TI_X, INC_TI_Y, INC_VI_X, INC_VI_Y),
           INC_LOSS_TICKS, INC_IOU_TICKS, EPOCH_TICKS_100)

draw_panel(fig, "InceptionResNetV2 U-Net", (10, 386, 461, 568), (240, 400),
           (42, 425, 230, 546), (261, 425, 449, 546),
           (IRV2_TL_X, IRV2_TL_Y, IRV2_VL_X, IRV2_VL_Y),
           (IRV2_TI_X, IRV2_TI_Y, IRV2_VI_X, IRV2_VI_Y),
           IRV2_LOSS_TICKS, IRV2_IOU_TICKS, EPOCH_TICKS_100)

draw_panel(fig, "U-Net2+", (463, 386, 914, 568), (686, 400),
           (495, 421, 683, 545), (714, 421, 902, 545),
           (U2P_TL_X, U2P_TL_Y, U2P_VL_X, U2P_VL_Y),
           (U2P_TI_X, U2P_TI_Y, U2P_VI_X, U2P_VI_Y),
           U2P_LOSS_TICKS, U2P_IOU_TICKS, EPOCH_TICKS_100)

draw_panel(fig, "U-Net3+", (918, 386, 1368, 568), (1145, 404),
           (947, 423, 1133, 545), (1166, 423, 1352, 545),
           (U3P_TL_X, U3P_TL_Y, U3P_VL_X, U3P_VL_Y),
           (U3P_TI_X, U3P_TI_Y, U3P_VI_X, U3P_VI_Y),
           U3P_LOSS_TICKS, U3P_IOU_TICKS, EPOCH_TICKS_100)

draw_panel(fig, "Attention U-Net", (10, 573, 461, 760), (226, 587),
           (39, 608, 226, 727), (259, 608, 445, 727),
           (ATT_TL_X, ATT_TL_Y, ATT_VL_X, ATT_VL_Y),
           (ATT_TI_X, ATT_TI_Y, ATT_VI_X, ATT_VI_Y),
           ATT_LOSS_TICKS, ATT_IOU_TICKS, EPOCH_TICKS_100)

draw_panel(fig, "Trans U-Net", (463, 573, 914, 760), (672, 590),
           (499, 609, 687, 730), (720, 609, 905, 730),
           (TRANS_TL_X, TRANS_TL_Y, TRANS_VL_X, TRANS_VL_Y),
           (TRANS_TI_X, TRANS_TI_Y, TRANS_VI_X, TRANS_VI_Y),
           TRANS_LOSS_TICKS, TRANS_IOU_TICKS, EPOCH_TICKS_150)

draw_panel(fig, "Swin U-Net", (918, 573, 1368, 760), (1138, 587),
           (954, 609, 1135, 731), (1152, 609, 1352, 731),
           (SWIN_TL_X, SWIN_TL_Y, SWIN_VL_X, SWIN_VL_Y),
           (SWIN_TI_X, SWIN_TI_Y, SWIN_VI_X, SWIN_VI_Y),
           SWIN_LOSS_TICKS, SWIN_IOU_TICKS, EPOCH_TICKS_100,
           iou_legend="upper left", clip_right=True)

fig.savefig("out.png", dpi=100, facecolor="white")
